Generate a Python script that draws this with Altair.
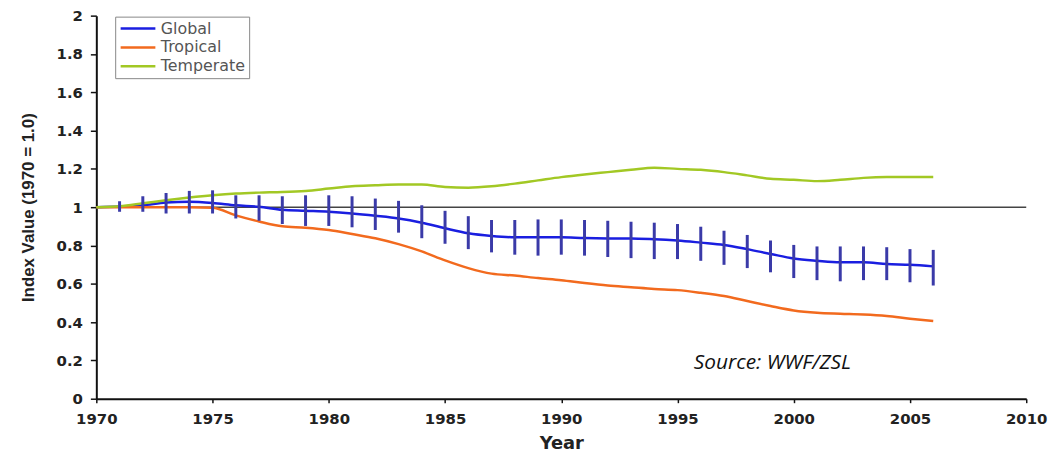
import altair as alt
import pandas as pd

years = list(range(1970, 2007))
global_idx = [1.0, 1.003, 1.01, 1.024, 1.028, 1.022, 1.01, 1.002, 0.986, 0.981, 0.976, 0.967,
              0.955, 0.941, 0.919, 0.89, 0.864, 0.85, 0.843, 0.843, 0.843, 0.839, 0.837, 0.836,
              0.833, 0.826, 0.815, 0.803, 0.781, 0.756, 0.732, 0.72, 0.712, 0.712, 0.703, 0.699, 0.691]
tropical_idx = [1.0, 1.0, 1.0, 1.0, 1.0, 0.997, 0.957, 0.925, 0.9, 0.893, 0.881, 0.86,
                0.838, 0.807, 0.769, 0.722, 0.682, 0.653, 0.643, 0.63, 0.619, 0.604, 0.591, 0.582,
                0.573, 0.567, 0.553, 0.536, 0.51, 0.484, 0.461, 0.449, 0.444, 0.44, 0.432, 0.418, 0.406]
temperate_idx = [1.0, 1.005, 1.02, 1.036, 1.05, 1.062, 1.071, 1.076, 1.079, 1.085, 1.097, 1.109,
                 1.114, 1.118, 1.118, 1.105, 1.102, 1.109, 1.123, 1.14, 1.157, 1.171, 1.183, 1.195,
                 1.206, 1.2, 1.195, 1.183, 1.166, 1.148, 1.143, 1.136, 1.143, 1.153, 1.157, 1.157, 1.157]

bar_years = list(range(1971, 2007))
global_upper = [1.031, 1.057, 1.074, 1.085, 1.088, 1.062, 1.062, 1.057, 1.062, 1.062, 1.057, 1.045,
                1.033, 1.01, 0.981, 0.953, 0.933, 0.933, 0.936, 0.936, 0.933, 0.929, 0.924, 0.919,
                0.912, 0.898, 0.877, 0.855, 0.826, 0.803, 0.795, 0.795, 0.795, 0.791, 0.781, 0.777]
global_lower = [0.976, 0.976, 0.967, 0.967, 0.967, 0.941, 0.929, 0.912, 0.902, 0.902, 0.895, 0.881,
                0.867, 0.838, 0.809, 0.781, 0.764, 0.752, 0.747, 0.752, 0.747, 0.74, 0.734, 0.729,
                0.729, 0.72, 0.699, 0.682, 0.66, 0.63, 0.619, 0.613, 0.619, 0.619, 0.608, 0.591]

series_names = ["Global", "Tropical", "Temperate"]
series_colors = ["#1a1ee0", "#f26a1e", "#a2c824"]
x_ticks = [1970, 1975, 1980, 1985, 1990, 1995, 2000, 2005, 2010]
y_ticks = [0, 0.2, 0.4, 0.6, 0.8, 1.0, 1.2, 1.4, 1.6, 1.8, 2.0]
ref_value = [1.0]
source_text = ["Source: WWF/ZSL"]

lines_df = pd.DataFrame({
    "Year": years * 3,
    "Value": global_idx + tropical_idx + temperate_idx,
    "Series": ["Global"] * len(years) + ["Tropical"] * len(years) + ["Temperate"] * len(years),
})
bars_df = pd.DataFrame({"Year": bar_years, "lo": global_lower, "hi": global_upper})
ref_df = pd.DataFrame({"x": [x_ticks[0]], "x2": [x_ticks[-1]], "y": ref_value})
src_df = pd.DataFrame({"label": source_text})

x_scale = alt.Scale(domain=[1970, 2010], nice=False, zero=False)
y_scale = alt.Scale(domain=[0, 2], nice=False)

x_axis = alt.Axis(values=x_ticks, format="d", title="Year",
                  labelFont="DejaVu Sans", labelFontWeight="bold", labelFontSize=15, labelColor="#222",
                  titleFont="DejaVu Sans", titleFontWeight="bold", titleFontSize=18, titleColor="#222",
                  domainColor="#111", domainWidth=2, tickColor="#111", tickSize=4, tickWidth=1.5,
                  labelPadding=9, titlePadding=8, grid=False, labelFlush=False)
y_axis = alt.Axis(values=y_ticks, format="~g", title="Index Value (1970 = 1.0)",
                  labelFont="DejaVu Sans", labelFontWeight="bold", labelFontSize=15, labelColor="#222",
                  titleFont="Liberation Sans", titleFontWeight="bold", titleFontSize=17, titleColor="#222",
                  domainColor="#111", domainWidth=2, tickColor="#111", tickSize=6, tickWidth=1.5,
                  labelPadding=8, titlePadding=19, grid=False)

ref_rule = alt.Chart(ref_df).mark_rule(color="#444", strokeWidth=1.5).encode(
    x=alt.X("x:Q", scale=x_scale, axis=x_axis),
    x2="x2:Q",
    y=alt.Y("y:Q", scale=y_scale, axis=y_axis),
)

lines = alt.Chart(lines_df).mark_line(strokeWidth=2.5, interpolate="monotone").encode(
    x=alt.X("Year:Q", scale=x_scale, axis=x_axis),
    y=alt.Y("Value:Q", scale=y_scale, axis=y_axis),
    color=alt.Color("Series:N", sort=series_names,
                    scale=alt.Scale(domain=series_names, range=series_colors),
                    legend=alt.Legend(orient="none", legendX=19, legendY=1, title=None,
                                      symbolType="stroke", symbolSize=1225, symbolStrokeWidth=2.5,
                                      clipHeight=16, labelFont="DejaVu Sans", labelFontSize=16,
                                      labelColor="#555", strokeColor="#888", fillColor="white",
                                      padding=4, rowPadding=3, labelOffset=4)),
    detail="Series:N",
)

bars = alt.Chart(bars_df).mark_rule(color="#3a3aa8", strokeWidth=3).encode(
    x=alt.X("Year:Q", scale=x_scale, axis=x_axis),
    y=alt.Y("lo:Q", scale=y_scale, axis=y_axis),
    y2="hi:Q",
)

src = alt.Chart(src_df).mark_text(align="left", baseline="middle", font="Open Sans",
                                  fontStyle="italic", fontSize=21, color="#111").encode(
    x=alt.value(602), y=alt.value(350), text="label:N"
)

chart = alt.layer(ref_rule, lines, bars, src).properties(
    width=937, height=386,
    autosize=alt.AutoSizeParams(type="none"),
    padding={"left": 89, "top": 6, "right": 30, "bottom": 53},
).configure_view(stroke=None)

chart.save("out.html", embed_options={"renderer": "svg", "actions": False})
